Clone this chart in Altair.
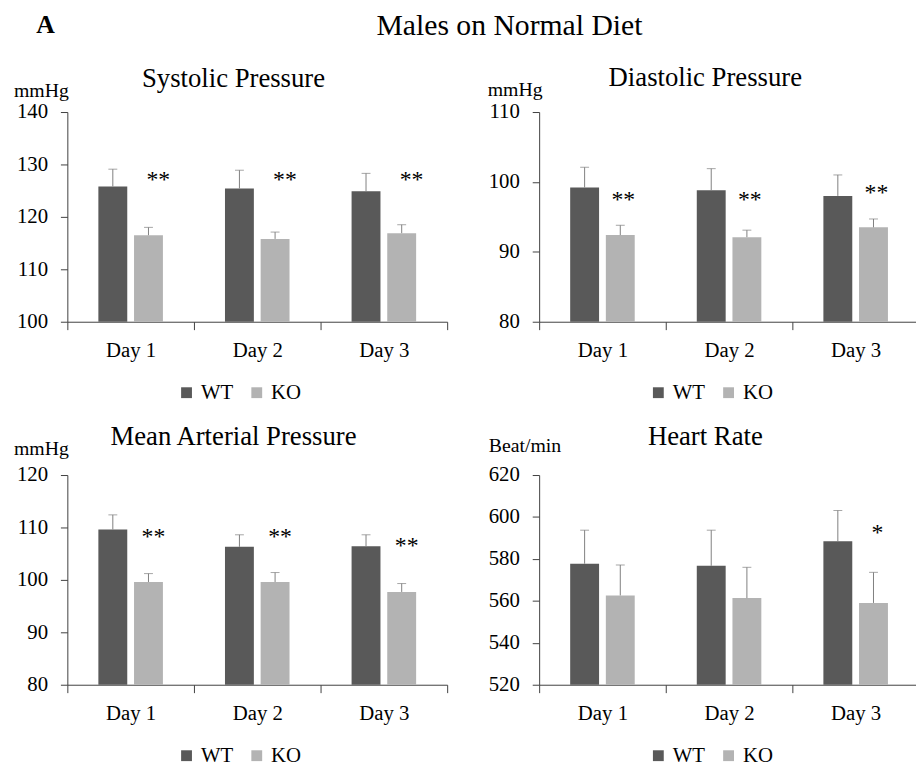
import altair as alt
import pandas as pd

FONT = "Liberation Serif"
WT_C = "#595959"
KO_C = "#b3b3b3"
ERR_C = "#7f7f7f"
AXIS_C = "#404040"

days = ["Day 1", "Day 2", "Day 3"]
groups = ["WT", "KO"]

# Systolic pressure (mmHg)
sys_wt = [125.8, 125.4, 124.9]
sys_wt_se = [3.3, 3.5, 3.4]
sys_ko = [116.5, 115.8, 116.9]
sys_ko_se = [1.5, 1.3, 1.6]
sys_ticks = [100, 110, 120, 130, 140]
sys_star_days = ["Day 1", "Day 2", "Day 3"]
sys_star = ["**", "**", "**"]
sys_star_y = [127.2, 127.2, 127.2]

# Diastolic pressure (mmHg)
dia_wt = [99.2, 98.8, 98.0]
dia_wt_se = [2.9, 3.1, 3.0]
dia_ko = [92.4, 92.1, 93.5]
dia_ko_se = [1.4, 1.0, 1.2]
dia_ticks = [80, 90, 100, 110]
dia_star_days = ["Day 1", "Day 2", "Day 3"]
dia_star = ["**", "**", "**"]
dia_star_y = [97.6, 97.6, 98.6]

# Mean arterial pressure (mmHg)
map_wt = [109.6, 106.3, 106.4]
map_wt_se = [2.8, 2.3, 2.2]
map_ko = [99.6, 99.6, 97.7]
map_ko_se = [1.6, 1.8, 1.6]
map_ticks = [80, 90, 100, 110, 120]
map_star_days = ["Day 1", "Day 2", "Day 3"]
map_star = ["**", "**", "**"]
map_star_y = [108.4, 108.4, 106.6]

# Heart rate (beat/min)
hr_wt = [577.7, 576.7, 588.4]
hr_wt_se = [16.0, 17.0, 14.7]
hr_ko = [562.6, 561.3, 559.0]
hr_ko_se = [14.5, 14.7, 14.6]
hr_ticks = [520, 540, 560, 580, 600, 620]
hr_star_days = ["Day 3"]
hr_star = ["*"]
hr_star_y = [592.8]

H = 212
W = 384


def panel(title, unit, wt, wt_se, ko, ko_se, yticks, star_days, star, star_y,
          title_y, unit_x, unit_y, star_dx, extra=None):
    ymin, ymax = yticks[0], yticks[-1]
    df = pd.DataFrame({
        "day": days * 2,
        "group": ["WT"] * 3 + ["KO"] * 3,
        "value": wt + ko,
        "se": wt_se + ko_se,
    })
    df["upper"] = df["value"] + df["se"]

    x = alt.X("day:N", sort=days,
              scale=alt.Scale(domain=days, paddingInner=0, paddingOuter=0),
              axis=alt.Axis(title=None, labelAngle=0, tickBand="extent", tickSize=8,
                            labelPadding=10, domainColor=AXIS_C, tickColor=AXIS_C,
                            labelFont=FONT, labelFontSize=21, labelColor="#000",
                            grid=False))
    xo = alt.XOffset("group:N", sort=groups,
                     scale=alt.Scale(domain=groups, paddingInner=0.19, paddingOuter=0.87))
    y = alt.Y("value:Q",
              scale=alt.Scale(domain=[ymin, ymax], nice=False, zero=False),
              axis=alt.Axis(title=None, values=yticks, tickSize=7, labelPadding=13,
                            domainColor=AXIS_C, tickColor=AXIS_C, labelFont=FONT,
                            labelFontSize=21, labelColor="#000", grid=False))

    base = alt.Chart(df)
    bars = base.mark_bar().encode(
        x=x, xOffset=xo, y=y, y2=alt.datum(ymin),
        color=alt.Color("group:N", sort=groups,
                        scale=alt.Scale(domain=groups, range=[WT_C, KO_C]),
                        legend=alt.Legend(title=None, orient="none", direction="horizontal",
                                          legendX=110, legendY=273, padding=0,
                                          symbolType="square", symbolSize=120,
                                          symbolStrokeWidth=0, labelFont=FONT,
                                          labelFontSize=21, labelColor="#000",
                                          labelOffset=4, columnPadding=13)))
    err = base.mark_rule(color=ERR_C, strokeWidth=1).encode(
        x=x, xOffset=xo, y="value:Q", y2="upper:Q")
    cap = base.mark_tick(color=ERR_C, thickness=1, size=9).encode(
        x=x, xOffset=xo, y="upper:Q")

    sdf = pd.DataFrame({"day": star_days, "group": "KO", "y": star_y, "t": star})
    stars = alt.Chart(sdf).mark_text(font=FONT, fontSize=24, baseline="alphabetic",
                                     dx=star_dx, dy=8, fill="#000").encode(
        x=x, xOffset=xo, y="y:Q", text="t:N")

    ttl = alt.Chart(pd.DataFrame({"t": [title]})).mark_text(
        font=FONT, fontSize=27, baseline="middle", fill="#000").encode(
        text="t:N", x=alt.value(W / 2 - 24), y=alt.value(title_y))
    unt = alt.Chart(pd.DataFrame({"t": [unit]})).mark_text(
        font=FONT, fontSize=20, baseline="alphabetic", align="left", fill="#000").encode(
        text="t:N", x=alt.value(unit_x), y=alt.value(unit_y))

    layers = [bars, err, cap, stars, ttl, unt]
    if extra is not None:
        layers += extra
    return alt.layer(*layers).properties(width=W, height=H)


label_a = alt.Chart(pd.DataFrame({"t": ["A"]})).mark_text(
    font=FONT, fontSize=26, fontWeight="bold", baseline="top", fill="#000").encode(
    text="t:N", x=alt.value(-22), y=alt.value(-101))
main_title = alt.Chart(pd.DataFrame({"t": ["Males on Normal Diet"]})).mark_text(
    font=FONT, fontSize=30, baseline="top", fill="#000").encode(
    text="t:N", x=alt.value(447), y=alt.value(-102))

p1 = panel("Systolic Pressure", "mmHg", sys_wt, sys_wt_se, sys_ko, sys_ko_se, sys_ticks,
           sys_star_days, sys_star, sys_star_y, -33, -54, -15, 10,
           extra=[label_a, main_title])
p2 = panel("Diastolic Pressure", "mmHg", dia_wt, dia_wt_se, dia_ko, dia_ko_se, dia_ticks,
           dia_star_days, dia_star, dia_star_y, -34, -52, -16, 3)
p3 = panel("Mean Arterial Pressure", "mmHg", map_wt, map_wt_se, map_ko, map_ko_se, map_ticks,
           map_star_days, map_star, map_star_y, -38, -54, -20, 5)
p4 = panel("Heart Rate", "Beat/min", hr_wt, hr_wt_se, hr_ko, hr_ko_se, hr_ticks,
           hr_star_days, hr_star, hr_star_y, -38, -51, -23, 4)

chart = alt.concat(p1, p2, p3, p4, columns=2, spacing={"row": 155, "column": 93},
                   bounds="flush").resolve_scale(color="independent").configure(
    font=FONT).configure_axis(labelFont=FONT).configure_legend(
    labelFont=FONT).configure_text(font=FONT).configure_view(
    stroke="transparent").properties(
    padding={"left": 5, "top": -2, "right": -4, "bottom": -4},
    background="white")

chart.save("out.html", embed_options={"renderer": "svg", "actions": False})
